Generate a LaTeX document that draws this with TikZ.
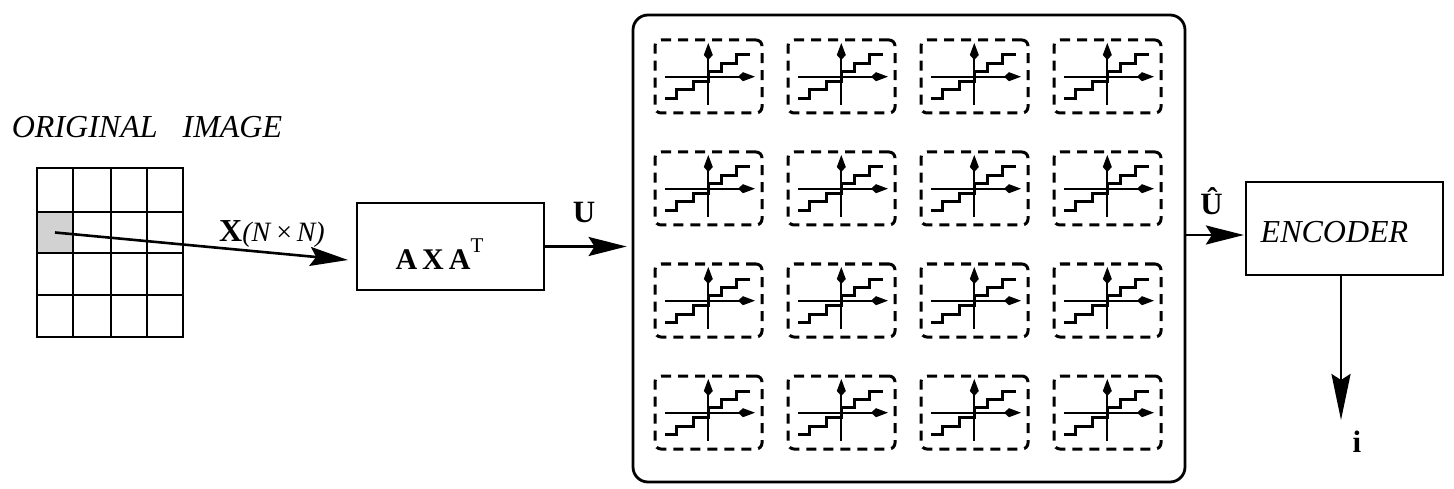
\documentclass[tikz,border=0pt]{standalone}
\usepackage{fontspec}
\setmainfont{Liberation Serif}
\usetikzlibrary{arrows.meta,calc}

\begin{document}
\begin{tikzpicture}[x=1pt,y=-1pt,
  flow/.style={line width=2.6pt,-{Stealth[length=38pt,width=19pt,inset=6pt]}},
  longflow/.style={line width=2.6pt,-{Stealth[length=46pt,width=19pt,inset=6pt]}},
  block/.style={draw,line width=2.2pt,inner sep=0pt},
  qbox/.style={draw,line width=3pt,dash pattern=on 10pt off 7pt,rounded corners=6pt,
    minimum width=107pt,minimum height=73pt,inner sep=0pt},
  qaxis/.style={line width=1.8pt,-{Kite[length=17pt,width=9pt,inset=5pt]}},
  stair/.style={line width=3pt},
  itlabel/.style={font=\fontsize{32}{36}\selectfont\itshape,inner sep=0pt},
  bflabel/.style={font=\fontsize{31}{36}\selectfont\bfseries,inner sep=0pt},
]
\useasboundingbox (0,0) rectangle (1454,489);

% original image: 4x4 block grid with one highlighted block
\node[itlabel] (title) at (147,127) {ORIGINAL\hspace{25pt}IMAGE};
\node[fill=gray!35,minimum width=36pt,minimum height=41pt,inner sep=0pt] (cell) at (55,232.5) {};
\node[draw,line width=2.2pt,minimum width=146pt,minimum height=169pt,inner sep=0pt] (img) at (110,252.5) {};
\foreach \gx in {73,111,147} \draw[line width=2pt] (\gx,168) -- (\gx,337);
\foreach \gy in {212,253,295} \draw[line width=2pt] (37,\gy) -- (183,\gy);

% transform block
\node[block,minimum width=187pt,minimum height=87pt,text height=46pt,text depth=0pt,
  font=\fontsize{30}{34}\selectfont\bfseries] (axa) at (450.5,246.5)
  {A\,X\,A\raisebox{17pt}{\fontsize{21}{21}\selectfont\mdseries T}\hspace*{22pt}};

\coordinate (xin) at (348,260);
\draw[flow] (cell.center) -- (xin);
\node[anchor=base,inner sep=0pt] (xlab) at (272,242)
  {{\fontsize{32}{36}\selectfont\bfseries X}{\fontsize{28}{32}\selectfont\itshape(N\/\,\upshape×\,\itshape N)}};

% bank of quantizers
\node[draw,line width=2.8pt,rounded corners=15pt,minimum width=552pt,minimum height=467pt,inner sep=0pt]
  (big) at (909,248.5) {};

\draw[flow,shorten >=5pt] (axa.east) -- (axa.east -| big.west);
\node[bflabel,anchor=base] (ulab) at (584,223) {U};

\foreach \r in {0,...,3}{
  \foreach \c in {0,...,3}{
    \node[qbox] (q\r\c) at (708.5+133*\c,76.5+112*\r) {};
    \begin{scope}[shift={(655+133*\c,40+112*\r)}]
      \draw[stair] (10,58.3) -- (21.7,58.3) -- (21.7,50) -- (38.3,50) -- (38.3,41.7)
        -- (53.3,41.7) -- (53.3,31.7) -- (66.7,31.7) -- (66.7,23.3) -- (81.7,23.3)
        -- (81.7,15) -- (95,15);
      \draw[qaxis] (10,36.7) -- (100,36.7);
      \draw[qaxis] (53.3,65) -- (53.3,3);
    \end{scope}
  }
}

% encoder
\node[block,minimum width=197pt,minimum height=93pt,text height=29pt,text depth=0pt,
  font=\fontsize{32}{36}\selectfont\itshape] (enc) at (1344.5,228.5) {ENCODER\hspace*{20pt}};

\coordinate (uin) at ($(enc.west)+(-1,6.5)$);
\draw[flow] (big.east |- uin) -- (uin);
\node[bflabel,anchor=base] (uhat) at (1211.5,215) {\^U};

\coordinate (iout) at (1341,420);
\draw[longflow] (iout |- enc.south) -- (iout);
\node[bflabel,anchor=base] (ilab) at (1357,452) {i};
\end{tikzpicture}
\end{document}
